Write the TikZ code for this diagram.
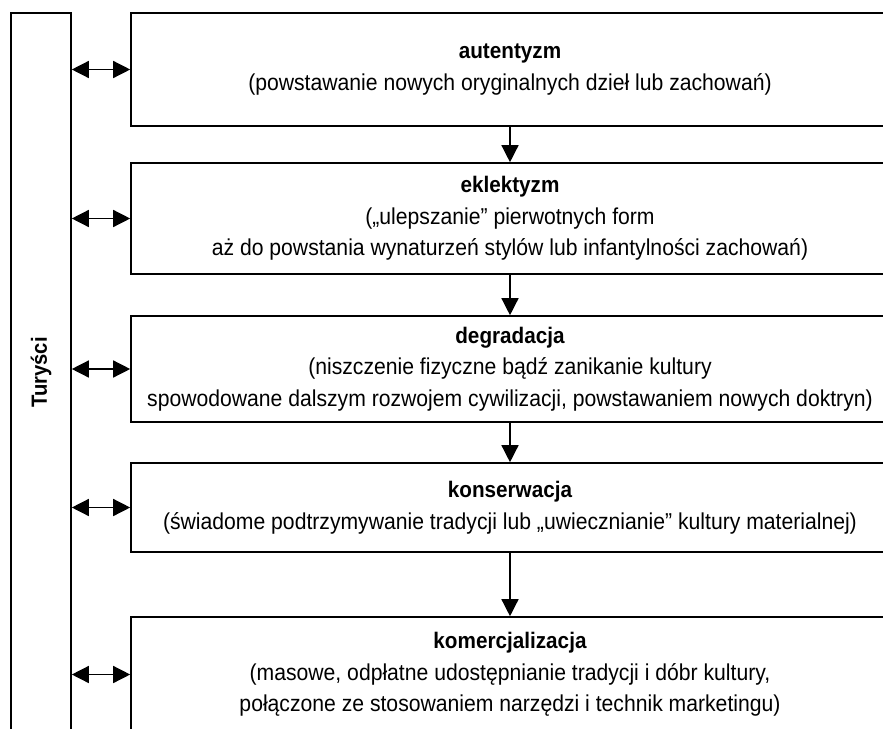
\documentclass[tikz,border=0pt]{standalone}
\usepackage{fontspec}
\setmainfont[FakeStretch=0.92]{Liberation Sans}
\usetikzlibrary{arrows.meta}

\newcommand{\tytul}[1]{{\bfseries\fontsize{22.5}{31.5}\selectfont #1}}

\begin{document}
\begin{tikzpicture}
  [x=1pt,y=-1pt,line width=1.6pt,
   every node/.style={draw,rectangle,align=center,inner sep=0pt,
                      font=\fontsize{23}{31.5}\selectfont}]

  \tikzstyle{faza} = [minimum width=758pt]
  \tikzstyle{strzalka} = [line width=1.4pt,>={Triangle[length=17pt,width=17pt]}]

  \useasboundingbox (0,0) rectangle (883,728);

  \node[minimum width=60pt,minimum height=719pt] (T) at (41,372.5) {};
  \node[draw=none,rotate=90,font=\bfseries\fontsize{22}{25}\selectfont]
        (Tt) at (T.center) {Turyści};

  \node[faza,minimum height=113pt] (1) at (510,69.5)
        {\tytul{autentyzm}\\(powstawanie nowych oryginalnych dzieł lub zachowań)};
  \node[faza,minimum height=111pt] (2) at (510,218.5)
        {\tytul{eklektyzm}\\(„ulepszanie” pierwotnych form\\aż do powstania wynaturzeń stylów lub infantylności zachowań)};
  \node[faza,minimum height=106pt] (3) at (510,369)
        {\tytul{degradacja}\\(niszczenie fizyczne bądź zanikanie kultury\\spowodowane dalszym rozwojem cywilizacji, powstawaniem nowych doktryn)};
  \node[faza,minimum height=89pt]  (4) at (510,507.5)
        {\tytul{konserwacja}\\(świadome podtrzymywanie tradycji lub „uwiecznianie” kultury materialnej)};
  \node[faza,minimum height=115pt] (5) at (510,674.5)
        {\tytul{komercjalizacja}\\(masowe, odpłatne udostępnianie tradycji i dóbr kultury,\\połączone ze stosowaniem narzędzi i technik marketingu)};

  \path[strzalka,->]
        (1) edge (2)
        (2) edge (3)
        (3) edge (4)
        (4) edge (5);

  \foreach \f in {1,...,5}
    \draw[strzalka,<->] (\f.west -| T.east) -- (\f.west);
\end{tikzpicture}
\end{document}
